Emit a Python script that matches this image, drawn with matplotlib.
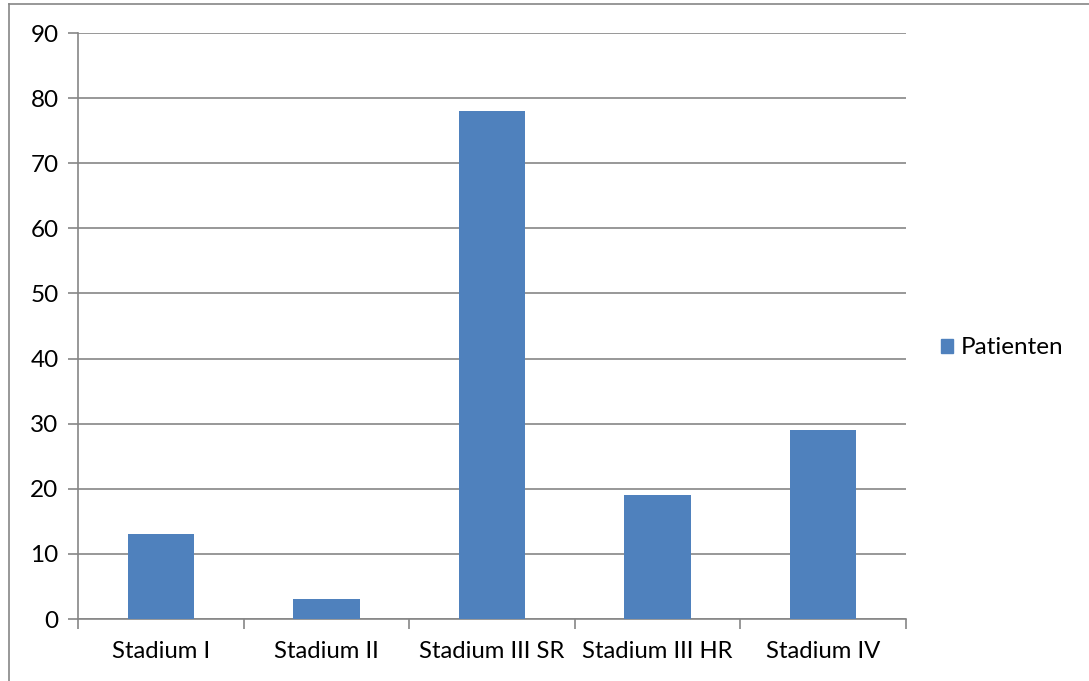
import matplotlib.pyplot as plt
from matplotlib.patches import Rectangle
from matplotlib.lines import Line2D

categories = ["Stadium I", "Stadium II", "Stadium III SR", "Stadium III HR", "Stadium IV"]
patienten = [13, 3, 78, 19, 29]
yticks = list(range(0, 91, 10))

plt.rcParams["font.family"] = ["Lato", "DejaVu Sans"]

grid_col = "#868686"
bar_col = "#4F81BD"

fig = plt.figure(figsize=(10.89, 6.81), dpi=100)
ax = fig.add_axes([78 / 1089, 62 / 681, 828 / 1089, 586 / 681])

x = range(len(categories))
ax.bar(x, patienten, width=0.4, color=bar_col, zorder=3, label="Patienten")

ax.set_xlim(-0.5, len(categories) - 0.5)
ax.set_ylim(0, 90)
ax.set_yticks(yticks)
ax.set_yticklabels([str(v) for v in yticks], fontsize=17.5)
ax.set_xticks([i - 0.5 for i in range(len(categories) + 1)], minor=False)
ax.set_xticklabels([])
ax.set_xticks(list(x), minor=True)
ax.set_xticklabels(categories, minor=True, fontsize=17.2)
ax.tick_params(axis="x", which="major", length=7, color=grid_col, width=1.2)
ax.tick_params(axis="x", which="minor", length=0, pad=16)
ax.tick_params(axis="y", length=7, color=grid_col, width=1.2, pad=7)

ax.grid(axis="y", color=grid_col, linewidth=1.2, zorder=0)
for side in ["top", "right"]:
    ax.spines[side].set_visible(False)
for side in ["left", "bottom"]:
    ax.spines[side].set_color(grid_col)
    ax.spines[side].set_linewidth(1.2)

leg = fig.legend(handles=[Rectangle((0, 0), 1, 1, color=bar_col)], labels=["Patienten"],
                 loc="center left", bbox_to_anchor=(929 / 1089, 1 - 348 / 681),
                 frameon=False, fontsize=17.5, handlelength=0.5, handleheight=0.5,
                 handletextpad=0.3, borderpad=0)

# outer chart frame
fig.add_artist(Line2D([9 / 1089, 9 / 1089], [0, 1 - 4 / 681], transform=fig.transFigure,
                      color=grid_col, linewidth=1.2))
fig.add_artist(Line2D([9 / 1089, 1], [1 - 4 / 681, 1 - 4 / 681], transform=fig.transFigure,
                      color=grid_col, linewidth=1.2))

fig.savefig("out.png", dpi=100, facecolor="white")
